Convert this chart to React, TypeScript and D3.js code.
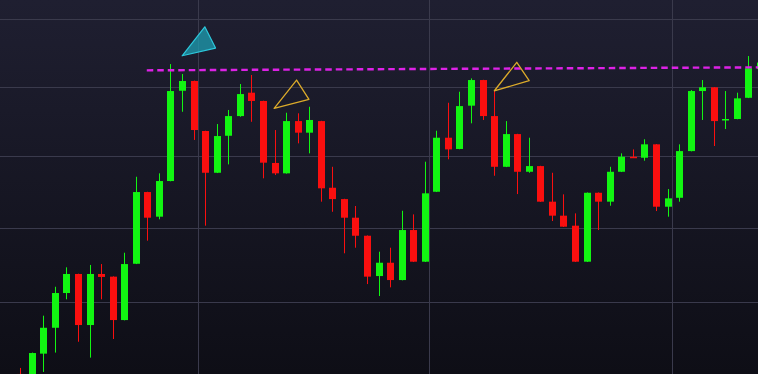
import React from 'react';
import * as d3 from 'd3';

// Candlestick chart with a resistance trendline and three drawn triangles.

const WIDTH = 758;
const HEIGHT = 374;

// OHLC per bar (bar index = array position).
const opens = [
  160.27, 159.88, 161.59, 163.29, 165.6, 166.88, 163.47, 166.88, 166.7, 163.8,
  167.57, 172.5, 170.79, 173.27, 179.71, 180.42, 176.81, 173.85, 176.47, 177.88,
  179.57, 178.97, 174.54, 173.81, 177.52, 176.69, 177.52, 172.8, 172.01, 170.72,
  169.48, 166.74, 167.64, 166.47, 169.87, 167.71, 172.52, 176.33, 175.53, 178.63,
  180.49, 177.88, 174.27, 176.59, 173.92, 174.32, 171.83, 170.86, 170.17, 167.71,
  172.45, 171.83, 173.92, 174.98, 174.91, 175.86, 171.48, 172.1, 175.38, 179.69,
  179.96, 177.6, 177.67, 179.2, 181.29,
];
const highs = [
  160.66, 161.66, 164.09, 166.02, 167.33, 166.9, 167.49, 167.55, 166.72, 168.32,
  173.57, 172.52, 173.81, 181.66, 180.93, 180.45, 176.83, 177.31, 178.32, 180.2,
  180.86, 178.99, 176.88, 178.12, 178.08, 178.55, 177.54, 174.27, 172.03, 171.53,
  169.5, 168.39, 168.66, 171.2, 170.95, 174.63, 176.83, 178.84, 179.64, 180.61,
  180.51, 179.71, 177.52, 176.61, 176.33, 174.34, 173.85, 172.34, 171.02, 172.47,
  172.47, 174.27, 175.22, 175.5, 176.22, 175.88, 172.71, 175.86, 179.76, 180.49,
  179.98, 179.69, 179.57, 182.25, 182.1,
];
const lows = [
  159.11, 159.36, 160.4, 161.66, 165.18, 162.37, 161.33, 165.18, 162.55, 163.78,
  167.55, 169.14, 170.61, 173.25, 178.19, 176.17, 170.17, 173.83, 174.44, 177.83,
  177.47, 173.46, 173.69, 173.79, 175.93, 175.22, 171.83, 171.13, 168.28, 168.66,
  166.2, 165.4, 165.98, 166.45, 167.69, 167.69, 172.5, 174.8, 175.51, 177.36,
  177.6, 173.64, 174.25, 172.36, 173.85, 171.81, 170.49, 170.08, 167.69, 167.69,
  169.87, 171.55, 173.9, 174.89, 174.7, 171.18, 170.79, 171.83, 175.36, 177.6,
  175.74, 176.95, 177.65, 179.18, 181.22,
];
const closes = [
  159.56, 161.63, 163.29, 165.6, 166.88, 163.47, 166.88, 166.68, 163.8, 167.55,
  172.5, 170.72, 173.27, 179.69, 180.42, 176.88, 173.85, 176.45, 177.88, 179.47,
  178.97, 174.56, 173.81, 177.52, 176.69, 177.6, 172.76, 172.01, 170.72, 169.48,
  166.7, 167.64, 166.47, 169.87, 167.71, 172.41, 176.33, 175.5, 178.6, 180.49,
  177.88, 174.27, 176.59, 173.92, 174.32, 171.83, 170.86, 170.1, 167.71, 172.45,
  171.83, 173.92, 174.98, 174.91, 175.86, 171.48, 172.06, 175.38, 179.69, 179.96,
  177.52, 177.67, 179.16, 181.35, 181.77,
];

// horizontal grid prices, vertical grid positions (in bar units)
const gridPrices = [165, 170, 175, 180, 185];
const gridBars = [15.4, 35.35, 56.4];

// dashed resistance line: [bar, price]
const trendPoints: [number, number][] = [[10.95, 181.2], [64, 181.42]];

// drawn triangles: [bar, price]
const cyanTriangle: [number, number][] = [[14.01, 182.27], [15.97, 184.42], [16.9, 182.84]];
const yellowTriangles: [number, number][][] = [
  [[21.97, 178.44], [23.91, 180.49], [24.98, 179.09]],
  [[41.02, 179.71], [42.96, 181.79], [44.03, 180.44]],
];

const UP = '#12f512';
const DOWN = '#fa0f0f';

export default function App() {
  const x = d3.scaleLinear().domain([0, 64]).range([20.2, 760]);
  // price axis is logarithmic — grid gaps shrink toward the top
  const y = d3.scaleLog().domain([165, 185]).range([302, 19]);

  const bodyW = 7;
  const line = d3.line<[number, number]>().x((d) => x(d[0])).y((d) => y(d[1]));
  const poly = (pts: [number, number][]) => line(pts) + 'Z';

  return (
    <svg
      width={WIDTH}
      height={HEIGHT}
      style={{ position: 'fixed', left: 0, top: 0, display: 'block' }}
    >
      <defs>
        <linearGradient id="bg" x1="0" y1="0" x2="0" y2="1">
          <stop offset="0%" stopColor="#1f1f31" />
          <stop offset="100%" stopColor="#0e0e16" />
        </linearGradient>
        <clipPath id="plot">
          <rect x={0} y={0} width={WIDTH} height={HEIGHT} />
        </clipPath>
      </defs>
      <rect x={0} y={0} width={WIDTH} height={HEIGHT} fill="url(#bg)" />

      {gridPrices.map((p) => (
        <line key={'h' + p} x1={0} x2={WIDTH} y1={Math.round(y(p)) + 0.5} y2={Math.round(y(p)) + 0.5}
          stroke="#3a3a4c" strokeWidth={1} />
      ))}
      {gridBars.map((b) => (
        <line key={'v' + b} x1={Math.round(x(b)) + 0.5} x2={Math.round(x(b)) + 0.5} y1={0} y2={HEIGHT}
          stroke="#3a3a4c" strokeWidth={1} />
      ))}

      <g clipPath="url(#plot)">
        {opens.map((o, i) => {
          const c = closes[i];
          const color = c >= o ? UP : DOWN;
          const cx = Math.round(x(i));
          const top = y(Math.max(o, c));
          const bot = y(Math.min(o, c));
          return (
            <g key={i}>
              <line x1={cx + 0.5} x2={cx + 0.5} y1={y(highs[i])} y2={y(lows[i])} stroke={color} strokeWidth={1} />
              <rect x={cx - 3} y={top} width={bodyW} height={Math.max(1.5, bot - top)} fill={color} />
            </g>
          );
        })}

        <path d={line(trendPoints) ?? ''} fill="none" stroke="#dd22e6" strokeWidth={2.4} strokeDasharray="6.5,4" />

        <path d={poly(cyanTriangle)} fill="#1e9fb3" fillOpacity={0.75} stroke="#2cc8dc" strokeWidth={1.2}
          strokeLinejoin="round" />
        {yellowTriangles.map((t, k) => (
          <path key={k} d={poly(t)} fill="none" stroke="#dcab2a" strokeWidth={1.3} strokeLinejoin="round" />
        ))}
      </g>
    </svg>
  );
}
